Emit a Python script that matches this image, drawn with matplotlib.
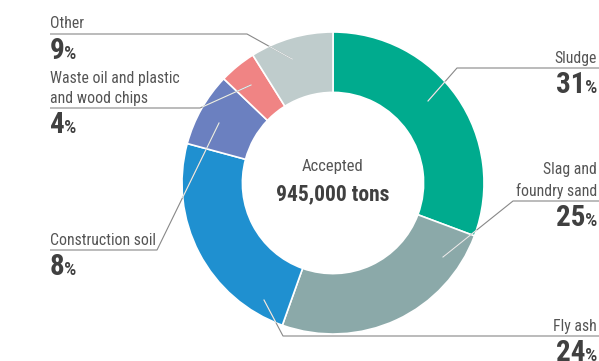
import math
import matplotlib
matplotlib.use("Agg")
import matplotlib.pyplot as plt
from matplotlib import font_manager as fm

# ---- data ----
categories = ["Sludge", "Slag and\nfoundry sand", "Fly ash", "Construction soil",
              "Waste oil and plastic\nand wood chips", "Other"]
values = [31, 25, 24, 8, 4, 9]
colors = ["#00AB8E", "#8BA9A9", "#1F90D0", "#6B80C0", "#F08484", "#BFCCCC"]
center_title = "Accepted"
center_value = "945,000 tons"

# pick a condensed font if available
names = {f.name for f in fm.fontManager.ttflist}
FAM = "DejaVu Sans"
STRETCH = "normal"
for cand in ["Roboto Condensed", "Liberation Sans Narrow", "Open Sans Condensed",
             "DejaVu Sans Condensed"]:
    if cand in names:
        FAM = cand
        break
else:
    STRETCH = "condensed"

W, H = 599, 361
fig = plt.figure(figsize=(W / 100, H / 100), dpi=100)
ax = fig.add_axes([0, 0, 1, 1])

cx, cy = 333, H - 183
R = 151
wedges, _ = ax.pie(values, colors=colors, startangle=90, counterclock=False,
                   radius=R, center=(cx, cy), frame=True,
                   wedgeprops=dict(width=R * 0.4, edgecolor="white", linewidth=1.2))
ax.set_xlim(0, W)
ax.set_ylim(0, H)
ax.set_aspect("equal")
ax.axis("off")

TXT = "#555555"
BOLD = "#404040"
LINE = "#888888"

def py(y):
    return H - y

def connector(pts):
    xs = [p[0] for p in pts]
    ys = [py(p[1]) for p in pts]
    ax.plot(xs, ys, color=LINE, lw=0.8, solid_capstyle="butt", zorder=5)
    x0, y0 = xs[-2], ys[-2]
    x1, y1 = xs[-1], ys[-1]
    n = 200
    for i in range(n + 1):
        t = i / n
        x = x0 + (x1 - x0) * t
        y = y0 + (y1 - y0) * t
        if math.hypot(x - cx, y - cy) <= R:
            ax.plot([x, x1], [y, y1], color="#E8EEEE", lw=0.8, zorder=6)
            break

def label(text, pct, x, ytext, yline, ha, line_pts):
    ax.text(x, py(ytext), text, ha=ha, va="bottom", fontsize=11.3, color=TXT,
            family=FAM, stretch=STRETCH, linespacing=1.45)
    yb = py(yline + 25)
    inv = ax.transData.inverted()
    if ha == "right":
        p = ax.text(x, yb, "%", ha="right", va="baseline", fontsize=14,
                    fontweight="medium", color=BOLD, family=FAM, stretch=STRETCH)
        fig.canvas.draw()
        bb = p.get_window_extent()
        xl = inv.transform((bb.x0, 0))[0]
        ax.text(xl + 1.0, yb, f"{pct}", ha="right", va="baseline", fontsize=21,
                fontweight="bold", color=BOLD, family=FAM, stretch=STRETCH)
    else:
        t = ax.text(x, yb, f"{pct}", ha="left", va="baseline", fontsize=21,
                    fontweight="bold", color=BOLD, family=FAM, stretch=STRETCH)
        fig.canvas.draw()
        bb = t.get_window_extent()
        xr = inv.transform((bb.x1, 0))[0]
        ax.text(xr - 1.0, yb, "%", ha="left", va="baseline", fontsize=14,
                fontweight="medium", color=BOLD, family=FAM, stretch=STRETCH)
    connector(line_pts)

# right side
label(categories[0], values[0], 597, 66, 68, "right",
      [(599, 68), (457, 68), (428, 101)])
label(categories[1], values[1], 597, 199, 201, "right",
      [(599, 201), (513, 201), (443, 257)])
label(categories[2], values[2], 597, 334, 336, "right",
      [(599, 336), (283, 336), (264, 300)])
# left side
label(categories[3], values[3], 50, 248, 250, "left",
      [(50, 250), (157, 250), (219, 123)])
label(categories[4], values[4], 50, 106, 108, "left",
      [(50, 108), (200, 108), (251, 85)])
label(categories[5], values[5], 50, 31, 34, "left",
      [(50, 34), (247, 34), (292, 59)])

ax.text(cx, py(171), center_title, ha="center", va="baseline", fontsize=12,
        color=TXT, family=FAM, stretch=STRETCH)
ax.text(cx, py(200), center_value, ha="center", va="baseline", fontsize=15.5,
        fontweight="bold", color=BOLD, family=FAM, stretch=STRETCH)

fig.savefig("out.png", dpi=100, facecolor="white")
